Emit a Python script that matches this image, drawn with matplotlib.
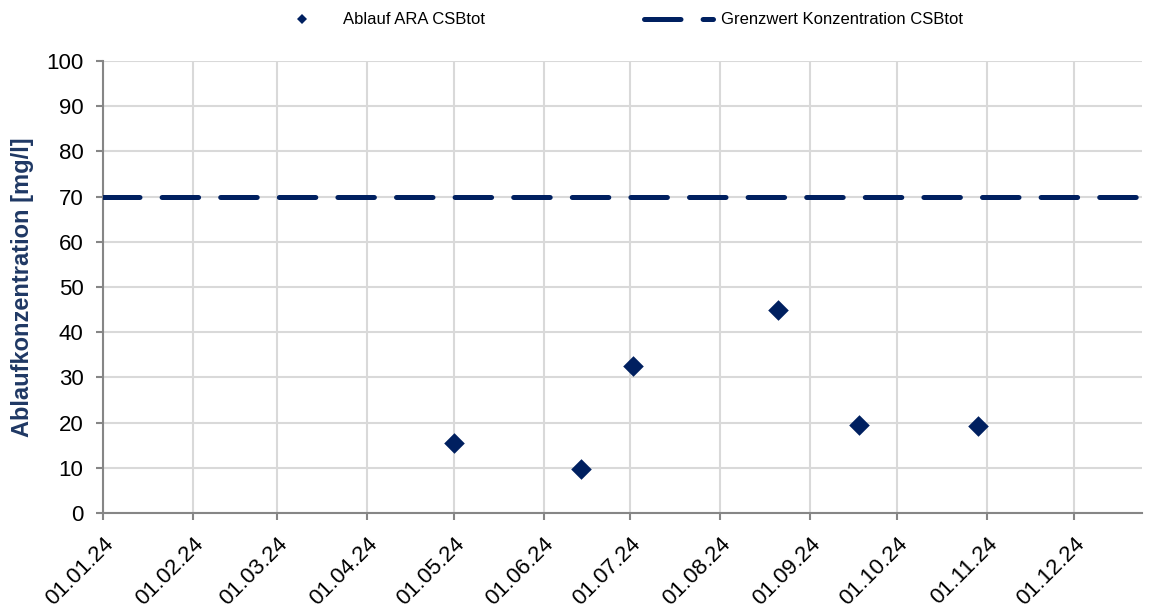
import matplotlib
matplotlib.use("Agg")
import matplotlib.pyplot as plt
import matplotlib.dates as mdates
from matplotlib.lines import Line2D
import numpy as np
from datetime import datetime

plt.rcParams['font.family'] = ['Liberation Sans', 'DejaVu Sans']

dates = ["2024-05-01", "2024-06-14", "2024-07-02", "2024-08-21", "2024-09-18", "2024-10-29"]
values = [15.4, 9.8, 32.6, 45.0, 19.5, 19.2]
limit_value = 70
series_label = "Ablauf ARA CSBtot"
limit_label = "Grenzwert Konzentration CSBtot"
y_label = "Ablaufkonzentration [mg/l]"
tick_months = [f"2024-{m:02d}-01" for m in range(1, 13)]

navy = "#002060"
grid_c = "#d9d9d9"
W, H = 1157, 610

fig = plt.figure(figsize=(W / 100, H / 100), dpi=100)
ax = fig.add_axes([103 / W, (H - 513) / H, (1142 - 103) / W, (513 - 61) / H])

x = [datetime.fromisoformat(d) for d in dates]
xmin = datetime(2024, 1, 1)
xmax = datetime(2024, 12, 24, 12)

lw = 3.6
ax.plot([xmin, xmax], [limit_value, limit_value], color=navy, lw=lw,
        dashes=(7.3, 4.42), dash_capstyle='round', solid_capstyle='round',
        label=limit_label, zorder=3)
ax.scatter(x, values, marker='D', s=110, color=navy, label=series_label,
           zorder=4, linewidths=0)

ax.set_xlim(xmin, xmax)
ax.set_ylim(0, 100)
ax.set_yticks(np.arange(0, 101, 10))
ax.set_xticks([datetime.fromisoformat(d) for d in tick_months])
ax.xaxis.set_major_formatter(mdates.DateFormatter("%d.%m.%y"))
for lbl in ax.get_xticklabels():
    lbl.set_rotation(45)
    lbl.set_ha('right')
    lbl.set_rotation_mode('anchor')

ax.grid(True, color=grid_c, lw=1.5, zorder=0)
ax.set_axisbelow(True)
for s in ['top', 'right']:
    ax.spines[s].set_visible(False)
for s in ['left', 'bottom']:
    ax.spines[s].set_color('#868686')
    ax.spines[s].set_linewidth(1.5)
ax.tick_params(axis='both', colors='#868686', labelcolor='black',
               labelsize=16, length=5, width=1.5)
ax.tick_params(axis='y', pad=9)
ax.tick_params(axis='x', pad=10)

fig.text(23 / W, 1 - 287.5 / H, y_label, rotation=90, ha='center', va='center',
         fontsize=17, fontweight='bold', color='#1f3864')

fs = 12
em = fs * 100 / 72
h_s = Line2D([], [], marker='D', color=navy, linestyle='none', markersize=5,
             markeredgewidth=0)
fig.legend([h_s], [series_label], loc='center left',
           bbox_to_anchor=((302 - em) / W, 1 - 20 / H), frameon=False,
           fontsize=fs, handlelength=2, handletextpad=(343 - 302 - em) / em,
           borderpad=0, borderaxespad=0)
h_l = Line2D([], [], color=navy, lw=lw, dashes=(7.3, 4.42),
             dash_capstyle='round')
hl_len = (713 - 644) / em
fig.legend([h_l], [limit_label], loc='center left',
           bbox_to_anchor=(644 / W, 1 - 20 / H), frameon=False,
           fontsize=fs, handlelength=hl_len,
           handletextpad=(721 - 713) / em,
           borderpad=0, borderaxespad=0)

fig.savefig("out.png", dpi=100)
